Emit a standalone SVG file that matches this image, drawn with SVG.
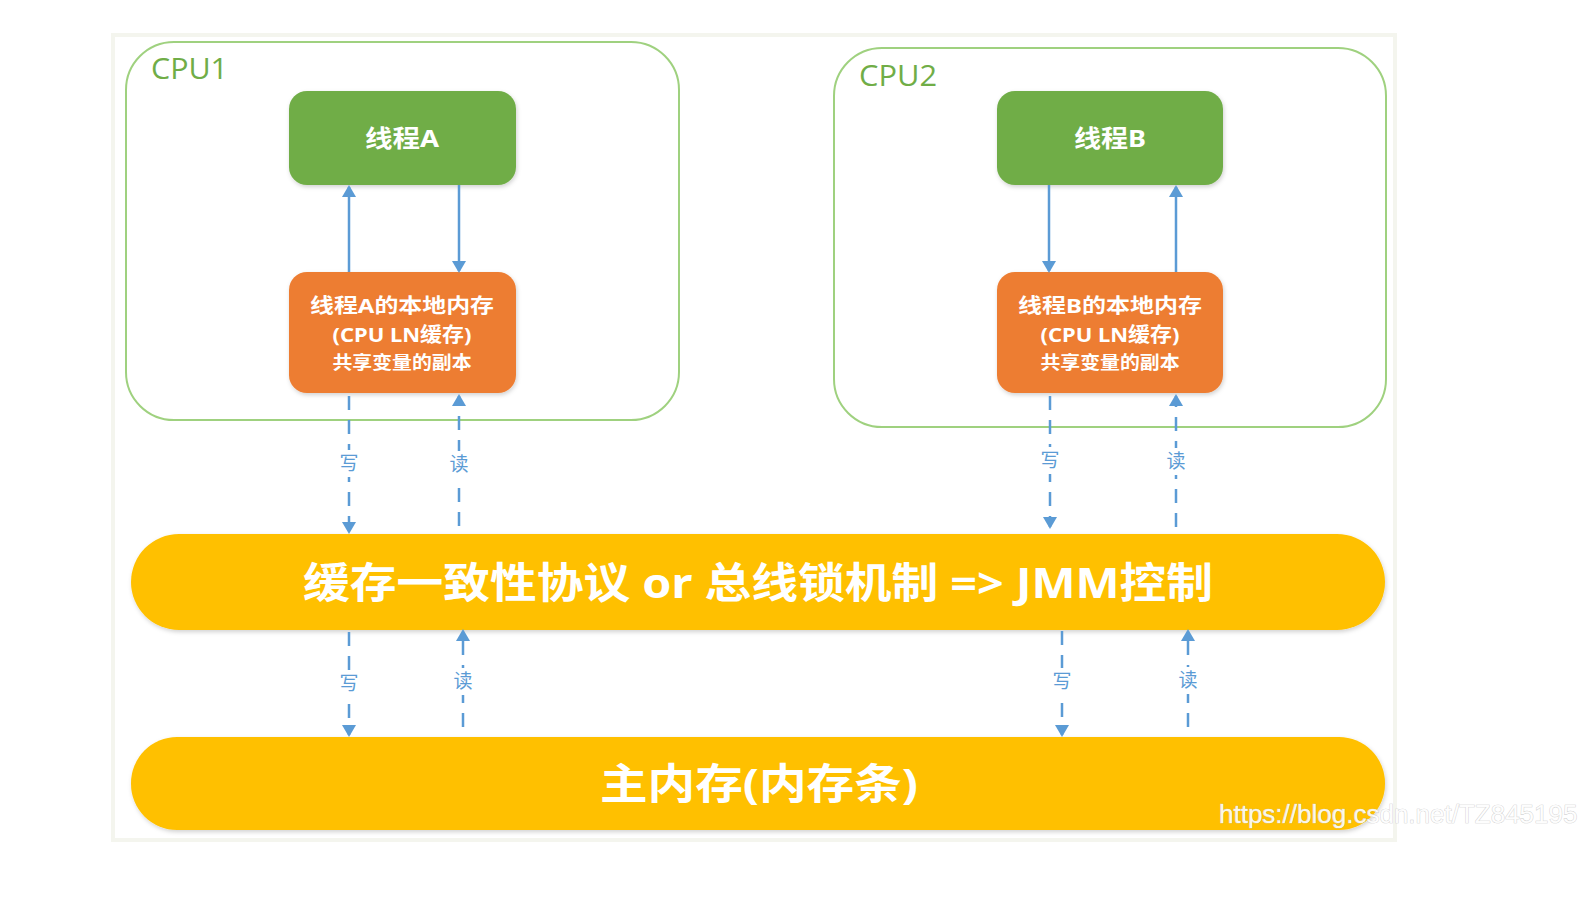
<svg xmlns="http://www.w3.org/2000/svg" width="1579" height="899" viewBox="0 0 1579 899">
<style>
.cpu{fill:#fff;stroke:#9fd17f;stroke-width:2}
.cpulbl{font-family:"Open Sans","Noto Sans",sans-serif;font-size:29px;fill:#70ad47}
.thread{fill:#70ad47}
.local{fill:#ed7d31}
.band{fill:#ffc000}
.wt{font-family:"Noto Sans","Noto Sans CJK SC",sans-serif;font-weight:bold;fill:#fff;text-anchor:middle}
.solid{stroke:#5b9bd5;stroke-width:2.5;fill:none}
.dash{stroke:#5b9bd5;stroke-width:2.5;fill:none;stroke-dasharray:14 10}
.lbl{font-family:"Noto Sans CJK SC",sans-serif;font-size:19px;fill:#5b9bd5;text-anchor:middle}
</style>
<defs>
<marker id="ah" viewBox="0 0 12 14" refX="10" refY="7" markerWidth="12" markerHeight="14" markerUnits="userSpaceOnUse" orient="auto">
<path d="M0,0 L12,7 L0,14 Z" fill="#5b9bd5"/>
</marker>
<filter id="sh" x="-10%" y="-10%" width="120%" height="130%">
<feDropShadow dx="1" dy="2" stdDeviation="2" flood-color="#000" flood-opacity="0.18"/>
</filter>
</defs>
<rect width="1579" height="899" fill="#fff"/>
<rect x="113" y="35" width="1282" height="805" fill="none" stroke="#f4f5ee" stroke-width="4"/>

<g id="cpu1">
<rect class="cpu" x="126" y="42" width="553" height="378" rx="48"/>
<text class="cpulbl" x="151" y="79" textLength="77" lengthAdjust="spacingAndGlyphs">CPU1</text>
</g>
<g id="cpu2">
<rect class="cpu" x="834" y="48" width="552" height="379" rx="48"/>
<text class="cpulbl" x="859" y="86" textLength="78" lengthAdjust="spacingAndGlyphs">CPU2</text>
</g>

<g id="threadA">
<rect class="thread" x="289" y="91" width="227" height="94" rx="18" filter="url(#sh)"/>
<text class="wt" x="402" y="147" font-size="24" textLength="74" lengthAdjust="spacingAndGlyphs">线程A</text>
</g>
<g id="localA">
<rect class="local" x="289" y="272" width="227" height="121" rx="18" filter="url(#sh)"/>
<text class="wt" x="402" y="313" font-size="20" textLength="184" lengthAdjust="spacingAndGlyphs">线程A的本地内存</text>
<text class="wt" x="402" y="342" font-size="20" textLength="139" lengthAdjust="spacingAndGlyphs">(CPU LN缓存)</text>
<text class="wt" x="402" y="369" font-size="18" textLength="139" lengthAdjust="spacingAndGlyphs">共享变量的副本</text>
</g>
<g id="threadB">
<rect class="thread" x="997" y="91" width="226" height="94" rx="18" filter="url(#sh)"/>
<text class="wt" x="1110" y="147" font-size="24" textLength="72" lengthAdjust="spacingAndGlyphs">线程B</text>
</g>
<g id="localB">
<rect class="local" x="997" y="272" width="226" height="121" rx="18" filter="url(#sh)"/>
<text class="wt" x="1110" y="313" font-size="20" textLength="184" lengthAdjust="spacingAndGlyphs">线程B的本地内存</text>
<text class="wt" x="1110" y="342" font-size="20" textLength="139" lengthAdjust="spacingAndGlyphs">(CPU LN缓存)</text>
<text class="wt" x="1110" y="369" font-size="18" textLength="139" lengthAdjust="spacingAndGlyphs">共享变量的副本</text>
</g>

<g id="bus">
<rect class="band" x="131" y="534" width="1254" height="96" rx="48" filter="url(#sh)"/>
<text class="wt" x="758" y="598" font-size="42" textLength="910" lengthAdjust="spacingAndGlyphs">缓存一致性协议 or 总线锁机制 =&gt; JMM控制</text>
</g>
<g id="mainmem">
<rect class="band" x="131" y="737" width="1254" height="93" rx="46" filter="url(#sh)"/>
<text class="wt" x="759" y="799" font-size="42" textLength="318" lengthAdjust="spacingAndGlyphs">主内存(内存条)</text>
</g>

<g id="connectors">
<line class="solid" x1="349" y1="272" x2="349" y2="187" marker-end="url(#ah)"/>
<line class="solid" x1="459" y1="185" x2="459" y2="271" marker-end="url(#ah)"/>
<line class="solid" x1="1049" y1="185" x2="1049" y2="271" marker-end="url(#ah)"/>
<line class="solid" x1="1176" y1="272" x2="1176" y2="187" marker-end="url(#ah)"/>

<line class="dash" x1="349" y1="396" x2="349" y2="532" marker-end="url(#ah)"/>
<line class="dash" x1="459" y1="526" x2="459" y2="396" marker-end="url(#ah)"/>
<line class="dash" x1="1050" y1="396" x2="1050" y2="527" marker-end="url(#ah)"/>
<line class="dash" x1="1176" y1="527" x2="1176" y2="396" marker-end="url(#ah)"/>

<line class="dash" x1="349" y1="632" x2="349" y2="735" marker-end="url(#ah)"/>
<line class="dash" x1="463" y1="727" x2="463" y2="631" marker-end="url(#ah)"/>
<line class="dash" x1="1062" y1="631" x2="1062" y2="735" marker-end="url(#ah)"/>
<line class="dash" x1="1188" y1="727" x2="1188" y2="631" marker-end="url(#ah)"/>

<rect x="337" y="450" width="24" height="27" fill="#fff"/>
<text class="lbl" x="349" y="470">写</text>
<rect x="447" y="451" width="24" height="27" fill="#fff"/>
<text class="lbl" x="459" y="471">读</text>
<rect x="1038" y="447" width="24" height="27" fill="#fff"/>
<text class="lbl" x="1050" y="467">写</text>
<rect x="1164" y="448" width="24" height="27" fill="#fff"/>
<text class="lbl" x="1176" y="468">读</text>

<rect x="337" y="670" width="24" height="27" fill="#fff"/>
<text class="lbl" x="349" y="690">写</text>
<rect x="451" y="668" width="24" height="27" fill="#fff"/>
<text class="lbl" x="463" y="688">读</text>
<rect x="1050" y="668" width="24" height="27" fill="#fff"/>
<text class="lbl" x="1062" y="688">写</text>
<rect x="1176" y="667" width="24" height="27" fill="#fff"/>
<text class="lbl" x="1188" y="687">读</text>
</g>

<text x="1219" y="823" font-family="Liberation Sans,Arial,sans-serif" font-size="26" fill="#fff" fill-opacity="0.9" stroke="#c8c8c8" stroke-width="0.7" paint-order="stroke">https://blog.csdn.net/TZ845195</text>
</svg>
